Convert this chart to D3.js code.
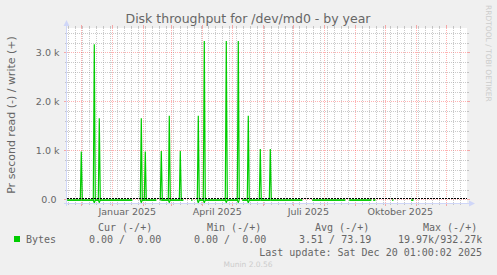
<!DOCTYPE html>
<html>
<head>
<meta charset="utf-8">
<script src="https://cdn.jsdelivr.net/npm/d3@7"></script>
<style>
  body { margin: 0; background: #f0f0f0; }
  svg { display: block; }
  text { font-family: "DejaVu Sans", sans-serif; fill: #666; }
  .mono { font-family: "DejaVu Sans Mono", monospace; white-space: pre; }
</style>
</head>
<body>
<div id="chart"></div>
<script>
// daily samples of the yearly rra, null = no data (breaks the line)
var days = [
    "2024-11-17", "2024-11-30", "2024-12-01", "2024-12-02", "2024-12-13", "2024-12-14", "2024-12-15",
    "2024-12-18", "2024-12-19", "2024-12-20", "2025-01-21", "2025-01-22",
    "2025-01-29", "2025-01-30", "2025-01-31", "2025-02-02", "2025-02-03", "2025-02-04", "2025-02-14", "2025-02-15",
    "2025-02-18", "2025-02-19", "2025-02-20", "2025-02-26", "2025-02-27", "2025-02-28",
    "2025-03-09", "2025-03-10", "2025-03-11", "2025-03-13", "2025-03-14",
    "2025-03-21", "2025-03-22", "2025-03-23",
    "2025-03-27", "2025-03-28", "2025-03-29", "2025-04-02", "2025-04-03", "2025-04-04",
    "2025-04-24", "2025-04-25", "2025-04-26", "2025-05-06", "2025-05-07", "2025-05-08", "2025-05-09",
    "2025-05-11", "2025-05-16", "2025-05-17", "2025-05-18", "2025-05-28", "2025-05-29", "2025-05-30",
    "2025-06-07", "2025-06-08", "2025-06-09", "2025-07-10", "2025-07-11",
    "2025-07-20", "2025-08-22", "2025-08-23",
    "2025-08-26", "2025-09-17", "2025-09-18",
    "2025-09-19", "2025-09-21", "2025-09-22",
    "2025-10-08", "2025-10-09", "2025-10-10",
    "2025-10-27", "2025-10-29", "2025-10-30"
];
var writeBytes = [
    0, 0, 990, 0, 0, 3180, 0,
    0, 1670, 0, 0, null,
    0, 1670, 0, 0, 990, 0, 0, null,
    0, 1000, 0, 0, 1720, 0,
    0, 1000, 0, 0, null,
    0, 0, null,
    0, 1720, 0, 0, 3250, 0,
    0, 3250, 0, 0, 3250, 0, null,
    0, 0, 1720, 0, 0, 1040, 0,
    0, 1040, 0, 0, null,
    0, 0, null,
    0, 0, null,
    0, 0, null,
    0, 0, null,
    0, 0, null
];
var readBytes = [
    0, 0, 0, 0, 0, -55, 0,
    0, -50, 0, 0, null,
    0, -50, 0, 0, 0, 0, 0, null,
    0, 0, 0, 0, -50, 0,
    0, 0, 0, 0, null,
    0, 0, null,
    0, -55, 0, 0, -55, 0,
    0, -50, 0, 0, -50, 0, null,
    0, 0, -55, 0, 0, 0, 0,
    0, 0, 0, 0, null,
    0, 0, null,
    0, 0, null,
    0, 0, null,
    0, 0, null,
    0, 0, null
];

var yTicks = [0, 1000, 2000, 3000];
var yTickLabels = ["0.0 ", "1.0 k", "2.0 k", "3.0 k"];
var xLabelDays = ["2025-01-16", "2025-04-16", "2025-07-16", "2025-10-16"];
var xLabels = ["Januar 2025", "April 2025", "Juli 2025", "Oktober 2025"];

var legendHeads = ["Cur (-/+)", "Min (-/+)", "Avg (-/+)", "Max (-/+)"];
var legendValues = ["0.00 /  0.00", "0.00 /  0.00", "3.51 / 73.19", "19.97k/932.27k"];
var lastUpdate = "Last update: Sat Dec 20 01:00:02 2025";

function drawChart() {
    var width = 497, height = 275,
        pLeft = 67, pTop = 28, plotW = 400, plotH = 175,
        pRight = pLeft + plotW, pBottom = pTop + plotH,
        green = "#00cc00", axisCol = "#cfd6f8",
        minorCol = "rgba(150,150,150,0.5)", majorCol = "rgba(255,0,0,0.3)";

    var parseDay = d3.utcParse("%Y-%m-%d");

    var x = d3.scaleUtc()
        .domain([new Date(Date.UTC(2024, 10, 16, 17)), new Date(Date.UTC(2025, 11, 21, 17))])
        .range([pLeft, pRight]);
    var y = d3.scaleLinear()
        .domain([-75, 3500])
        .range([pBottom, pTop]);

    var data = days.map(function (d, i) {
        return { t: parseDay(d), w: writeBytes[i], r: readBytes[i] };
    });

    var svg = d3.select("#chart").append("svg")
        .attr("width", width)
        .attr("height", height);

    svg.append("rect").attr("width", width).attr("height", height).attr("fill", "#f0f0f0");
    svg.append("rect")
        .attr("x", pLeft).attr("y", pTop)
        .attr("width", plotW).attr("height", plotH)
        .attr("fill", "#fff");

    function px(v) { return Math.round(v) + 0.5; }

    // horizontal grid
    var hMinor = d3.range(0, 3500, 200).filter(function (v) { return v % 1000 !== 0; });
    function hGrid(vals, col, ext) {
        var g = svg.append("g").attr("stroke", col).attr("stroke-width", 1);
        vals.forEach(function (v) {
            var yy = px(y(v));
            g.append("line").attr("x1", pLeft).attr("x2", pRight).attr("y1", yy).attr("y2", yy)
                .attr("stroke-dasharray", "1,1");
            g.append("line").attr("x1", pLeft - ext).attr("x2", pLeft).attr("y1", yy).attr("y2", yy);
            g.append("line").attr("x1", pRight).attr("x2", pRight + ext).attr("y1", yy).attr("y2", yy);
        });
    }
    hGrid(hMinor, minorCol, 2);
    hGrid(yTicks, majorCol, 3);

    // vertical grid: weeks (monday) minor, months major
    var t0 = x.domain()[0], t1 = x.domain()[1];
    var months = d3.utcMonth.range(t0, t1);
    var weeks = d3.utcMonday.range(t0, t1).filter(function (d) { return d.getUTCDate() !== 1; });
    function vGrid(vals, col, ext) {
        var g = svg.append("g").attr("stroke", col).attr("stroke-width", 1);
        vals.forEach(function (d) {
            var xx = px(x(d));
            g.append("line").attr("x1", xx).attr("x2", xx).attr("y1", pTop).attr("y2", pBottom)
                .attr("stroke-dasharray", "1,1");
            g.append("line").attr("x1", xx).attr("x2", xx).attr("y1", pTop - ext).attr("y2", pTop);
            g.append("line").attr("x1", xx).attr("x2", xx).attr("y1", pBottom).attr("y2", pBottom + ext);
        });
    }
    vGrid(weeks, minorCol, 2);
    vGrid(months, majorCol, 3);

    // data
    var lineW = d3.line()
        .defined(function (d) { return d.w != null; })
        .x(function (d) { return x(d.t); })
        .y(function (d) { return y(d.w); });
    var lineR = d3.line()
        .defined(function (d) { return d.r != null; })
        .x(function (d) { return x(d.t); })
        .y(function (d) { return y(d.r); });

    var dg = svg.append("g").attr("transform", "translate(0,0.7)");
    dg.append("path").datum(data).attr("d", lineR)
        .attr("fill", "none").attr("stroke", green).attr("stroke-width", 1.2);
    dg.append("path").datum(data).attr("d", lineW)
        .attr("fill", "none").attr("stroke", green).attr("stroke-width", 1.2);

    // zero rule
    var y0 = Math.round(y(0)) - 0.5;
    svg.append("line")
        .attr("x1", pLeft).attr("x2", pRight).attr("y1", y0).attr("y2", y0)
        .attr("stroke", "#000").attr("stroke-width", 1).attr("stroke-dasharray", "2,1");

    // axes with arrows
    var ax = svg.append("g").attr("stroke", axisCol).attr("fill", axisCol);
    ax.append("line").attr("x1", pLeft - 0.5).attr("x2", pLeft - 0.5).attr("y1", pBottom + 3).attr("y2", pTop - 3);
    ax.append("line").attr("x1", pLeft - 3).attr("x2", pRight + 3).attr("y1", pBottom + 0.5).attr("y2", pBottom + 0.5);
    ax.append("path").attr("stroke", "none")
        .attr("d", "M" + (pLeft - 3.5) + "," + (pTop - 2) + "L" + (pLeft - 0.5) + "," + (pTop - 8) + "L" + (pLeft + 2.5) + "," + (pTop - 2) + "Z");
    ax.append("path").attr("stroke", "none")
        .attr("d", "M" + (pRight + 2) + "," + (pBottom - 2.5) + "L" + (pRight + 8) + "," + (pBottom + 0.5) + "L" + (pRight + 2) + "," + (pBottom + 3.5) + "Z");

    // y labels
    svg.append("g").selectAll("text").data(yTicks).enter().append("text")
        .attr("x", 59.5)
        .attr("y", function (d) { return y(d) + 3.5; })
        .attr("text-anchor", "end")
        .style("white-space", "pre")
        .attr("font-size", 9.5)
        .text(function (d, i) { return yTickLabels[i]; });

    // x labels
    svg.append("g").selectAll("text").data(xLabelDays).enter().append("text")
        .attr("x", function (d) { return x(parseDay(d)); })
        .attr("y", 215)
        .attr("text-anchor", "middle")
        .attr("font-size", 9.5)
        .text(function (d, i) { return xLabels[i]; });

    // title, vertical label, watermark
    svg.append("text")
        .attr("x", 248).attr("y", 23)
        .attr("text-anchor", "middle")
        .attr("font-size", 12.5)
        .text("Disk throughput for /dev/md0 - by year");
    svg.append("text")
        .attr("transform", "translate(15,115) rotate(-90)")
        .attr("text-anchor", "middle")
        .attr("font-size", 11)
        .text("Pr second read (-) / write (+)");
    svg.append("text")
        .attr("transform", "translate(485.5,5) rotate(90)")
        .attr("font-size", 7.5)
        .style("fill", "#cccccc")
        .text("RRDTOOL / TOBI OETIKER");

    // legend
    var legX = [98, 207, 315, 423],
        valX = [89, 194, 299, 398];
    svg.append("g").selectAll("text").data(legendHeads).enter().append("text")
        .attr("class", "mono")
        .attr("x", function (d, i) { return legX[i]; })
        .attr("y", 231)
        .attr("font-size", 10)
        .text(function (d) { return d; });
    svg.append("rect")
        .attr("x", 14).attr("y", 236).attr("width", 6).attr("height", 6)
        .attr("fill", green);
    svg.append("text").attr("class", "mono")
        .attr("x", 26).attr("y", 243).attr("font-size", 10).text("Bytes");
    svg.append("g").selectAll("text").data(legendValues).enter().append("text")
        .attr("class", "mono")
        .attr("x", function (d, i) { return valX[i]; })
        .attr("y", 243)
        .attr("font-size", 10)
        .text(function (d) { return d; });
    svg.append("text").attr("class", "mono")
        .attr("x", 482).attr("y", 255.5)
        .attr("text-anchor", "end")
        .attr("font-size", 10)
        .text(lastUpdate);
    svg.append("text")
        .attr("x", 248).attr("y", 267)
        .attr("text-anchor", "middle")
        .attr("font-size", 7.5)
        .style("fill", "#cccccc")
        .text("Munin 2.0.56");
}

drawChart();
</script>
</body>
</html>
